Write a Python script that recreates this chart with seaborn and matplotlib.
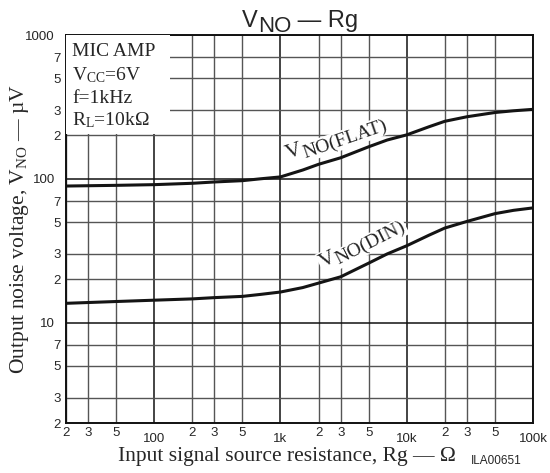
import numpy as np
import pandas as pd
import matplotlib
matplotlib.use('Agg')
import matplotlib.pyplot as plt
from matplotlib.font_manager import FontProperties
from matplotlib.patches import Rectangle
import seaborn as sns

# signal source resistance (ohm) and output noise voltage (uV)
rg = [20, 50, 100, 200, 300, 500, 700, 1000, 1500, 2000, 3000, 5000, 7000,
      10000, 15000, 20000, 30000, 50000, 70000, 100000]
vno_flat = [89, 90, 91, 93, 95, 97, 100, 103, 115, 126, 140, 167, 186,
            202, 230, 251, 270, 289, 297, 304]
vno_din = [13.6, 14.0, 14.3, 14.6, 14.9, 15.2, 15.7, 16.3, 17.5, 18.8, 20.8, 25.9, 30.0,
           34.2, 40.5, 45.4, 50.5, 57.2, 60.3, 62.7]

x_major = [100, 1000, 10000, 100000]
x_major_labels = ['100', '1k', '10k', '100k']
x_minor = [20, 30, 50, 200, 300, 500, 2000, 3000, 5000, 20000, 30000, 50000]
x_minor_labels = ['2', '3', '5'] * 4
y_major = [10, 100, 1000]
y_major_labels = ['10', '100', '1000']
y_minor = [2, 3, 5, 7, 20, 30, 50, 70, 200, 300, 500, 700]
y_minor_labels = ['2', '3', '5', '7'] * 3

conditions = ['MIC AMP', r'$\mathrm{V_{CC}}$=6V', 'f=1kHz', r'$\mathrm{R_L}$=10kΩ']

sns.set_style('white')
plt.rcParams['font.family'] = ['Liberation Sans', 'DejaVu Sans']
plt.rcParams['mathtext.fontset'] = 'custom'
plt.rcParams['mathtext.rm'] = 'Liberation Serif'
plt.rcParams['mathtext.it'] = 'Liberation Serif:italic'
plt.rcParams['mathtext.bf'] = 'Liberation Serif:bold'

SERIF = ['Liberation Serif', 'DejaVu Serif']
SANS = ['Liberation Sans', 'DejaVu Sans']

df = pd.DataFrame({
    'rg': rg * 2,
    'vno': vno_flat + vno_din,
    'curve': ['FLAT'] * len(rg) + ['DIN'] * len(rg),
})

fig = plt.figure(figsize=(5.5, 4.73), dpi=100)
ax = fig.add_axes([66 / 550, 50 / 473, 467 / 550, 388 / 473])

sns.lineplot(data=df, x='rg', y='vno', hue='curve', palette={'FLAT': '#141414', 'DIN': '#141414'},
             linewidth=2.2, legend=False, ax=ax, zorder=2)

ax.set_xscale('log')
ax.set_yscale('log')
ax.set_xlim(20, 100000)
ax.set_ylim(2, 1000)

ax.set_xticks(x_major, labels=x_major_labels)
ax.set_xticks(x_minor, labels=x_minor_labels, minor=True)
ax.set_yticks(y_major, labels=y_major_labels)
ax.set_yticks(y_minor, labels=y_minor_labels, minor=True)
ax.tick_params(which='both', length=0, labelsize=9.5)
ax.tick_params(axis='x', which='major', pad=7)
ax.tick_params(axis='x', which='minor', pad=3)
ax.tick_params(axis='y', which='major', pad=8)
ax.tick_params(axis='y', which='minor', pad=4)

ax.set_axisbelow(True)
ax.grid(which='major', color='#111111', linewidth=1.1)
ax.grid(which='minor', color='#555555', linewidth=1.0)
for sp in ax.spines.values():
    sp.set_color('#111111')
    sp.set_linewidth(1.4)

ax.set_xlabel('')
ax.set_ylabel('Output noise voltage, $\\mathrm{V_{NO}}$ — µV', family=SERIF, fontsize=15.5)
ax.yaxis.set_label_coords(-0.076, 0.5)
fig.text(118 / 550, 1 - 447 / 473, 'Input signal source resistance, Rg — Ω', family=SERIF,
         fontsize=15.5, ha='left', va='top')
fig.text(471 / 550, 1 - 461 / 473, 'ILA00651', family=SANS, fontsize=8.5, ha='left', va='center')

# white panel behind the operating conditions
ax.add_patch(Rectangle((0, 0.745), 0.223, 0.255, transform=ax.transAxes,
                       facecolor='white', edgecolor='none', zorder=3))
for txt, yy in zip(conditions, [0.946, 0.884, 0.825, 0.768]):
    ax.text(0.013, yy, txt, transform=ax.transAxes, family=SERIF, fontsize=14,
            ha='left', va='baseline', zorder=4)

renderer = fig.canvas.get_renderer()


def text_w(s, size, family):
    fp = FontProperties(family=family, size=size)
    w, _, _ = renderer.get_text_width_height_descent(s, fp, ismath=False)
    return w * 72 / fig.dpi


def rich_text(x, y, pieces, family, rot=0, coords='data', bg=False):
    th = np.deg2rad(rot)
    adv = 0
    for s, size, drop in pieces:
        dx = adv * np.cos(th) + drop * np.sin(th)
        dy = adv * np.sin(th) - drop * np.cos(th)
        kw = {}
        if bg:
            kw['bbox'] = dict(boxstyle='square,pad=0.05', fc='white', ec='none')
        ax.annotate(s, xy=(x, y), xycoords=coords, xytext=(dx, dy), textcoords='offset points',
                    rotation=rot, rotation_mode='anchor', ha='left', va='baseline',
                    fontsize=size, family=family, zorder=5, annotation_clip=False, **kw)
        adv += text_w(s, size, family)
    return adv


rich_text(1150, 137, [('V', 16, 0), ('NO(FLAT)', 14, 3)], SERIF, rot=19, bg=True)
rich_text(2150, 24, [('V', 16, 0), ('NO(DIN)', 14, 3)], SERIF, rot=27, bg=True)

title_pieces = [('V', 17, 0), ('NO', 16, 3.5), (' — Rg', 17, 0)]
total = sum(text_w(s, sz, SANS) for s, sz, _ in title_pieces) * fig.dpi / 72
rich_text(300 - total / 2, 473 - 27, title_pieces, SANS, coords='figure pixels')

fig.savefig('out.png', dpi=100)
